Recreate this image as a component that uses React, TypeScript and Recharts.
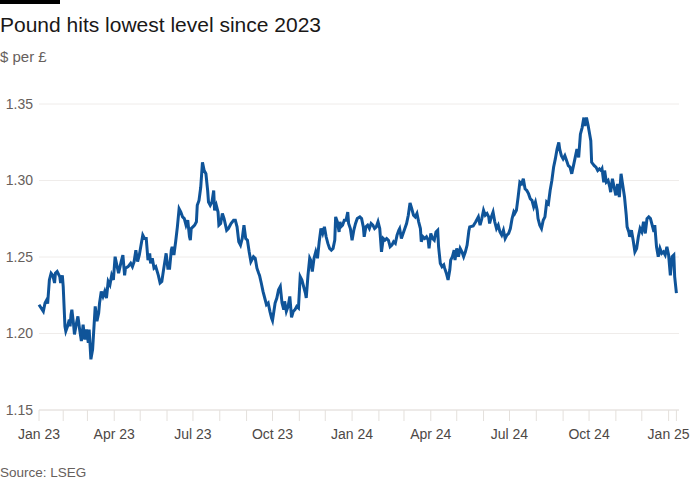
/**
 * Pound vs dollar
 * Line chart of GBP/USD from Jan 2023 to Jan 2025 (FT style)
 */

import React from 'react';
import { LineChart, Line, XAxis, YAxis, CartesianGrid } from 'recharts';

const dates = [
  '2023-01-04', '2023-01-09', '2023-01-11', '2023-01-13', '2023-01-14', '2023-01-16', '2023-01-18', '2023-01-20',
  '2023-01-22', '2023-01-23', '2023-01-25', '2023-01-28', '2023-01-29', '2023-01-31', '2023-02-01', '2023-02-03',
  '2023-02-04', '2023-02-06', '2023-02-08', '2023-02-09', '2023-02-10', '2023-02-11', '2023-02-13', '2023-02-14',
  '2023-02-16', '2023-02-18', '2023-02-20', '2023-02-22', '2023-02-24', '2023-02-26', '2023-02-28', '2023-03-02',
  '2023-03-03', '2023-03-05', '2023-03-07', '2023-03-10', '2023-03-12', '2023-03-14', '2023-03-15', '2023-03-17',
  '2023-03-19', '2023-03-21', '2023-03-23', '2023-03-25', '2023-03-27', '2023-03-29', '2023-03-31', '2023-04-02',
  '2023-04-04', '2023-04-06', '2023-04-09', '2023-04-11', '2023-04-13', '2023-04-14', '2023-04-17', '2023-04-20',
  '2023-04-22', '2023-04-24', '2023-04-26', '2023-04-28', '2023-04-30', '2023-05-02', '2023-05-04', '2023-05-06',
  '2023-05-08', '2023-05-10', '2023-05-12', '2023-05-13', '2023-05-15', '2023-05-17', '2023-05-19', '2023-05-22',
  '2023-05-24', '2023-05-26', '2023-05-28', '2023-05-31', '2023-06-02', '2023-06-04', '2023-06-06', '2023-06-07',
  '2023-06-09', '2023-06-11', '2023-06-13', '2023-06-15', '2023-06-17', '2023-06-19', '2023-06-21', '2023-06-23',
  '2023-06-25', '2023-06-27', '2023-06-28', '2023-06-29', '2023-07-01', '2023-07-03', '2023-07-05', '2023-07-06',
  '2023-07-08', '2023-07-10', '2023-07-12', '2023-07-14', '2023-07-16', '2023-07-18', '2023-07-19', '2023-07-21',
  '2023-07-23', '2023-07-25', '2023-07-26', '2023-07-28', '2023-07-30', '2023-07-31', '2023-08-02', '2023-08-04',
  '2023-08-06', '2023-08-09', '2023-08-11', '2023-08-14', '2023-08-17', '2023-08-19', '2023-08-21', '2023-08-23',
  '2023-08-25', '2023-08-27', '2023-08-29', '2023-08-31', '2023-09-02', '2023-09-04', '2023-09-06', '2023-09-09',
  '2023-09-11', '2023-09-13', '2023-09-15', '2023-09-16', '2023-09-18', '2023-09-20', '2023-09-22', '2023-09-24',
  '2023-09-26', '2023-09-28', '2023-09-30', '2023-10-01', '2023-10-04', '2023-10-06', '2023-10-08', '2023-10-10',
  '2023-10-12', '2023-10-14', '2023-10-15', '2023-10-17', '2023-10-19', '2023-10-21', '2023-10-23', '2023-10-25',
  '2023-10-27', '2023-10-29', '2023-10-31', '2023-11-02', '2023-11-04', '2023-11-06', '2023-11-08', '2023-11-09',
  '2023-11-11', '2023-11-13', '2023-11-14', '2023-11-16', '2023-11-18', '2023-11-20', '2023-11-22', '2023-11-24',
  '2023-11-26', '2023-11-28', '2023-11-30', '2023-12-02', '2023-12-04', '2023-12-06', '2023-12-08', '2023-12-10',
  '2023-12-12', '2023-12-13', '2023-12-15', '2023-12-17', '2023-12-18', '2023-12-19', '2023-12-21', '2023-12-23',
  '2023-12-25', '2023-12-27', '2023-12-28', '2023-12-30',
  '2024-01-01', '2024-01-03', '2024-01-05', '2024-01-07', '2024-01-10', '2024-01-12', '2024-01-14', '2024-01-15',
  '2024-01-17', '2024-01-19', '2024-01-21', '2024-01-23', '2024-01-25', '2024-01-27', '2024-01-29', '2024-01-31',
  '2024-02-02', '2024-02-04', '2024-02-06', '2024-02-08', '2024-02-10', '2024-02-12', '2024-02-14', '2024-02-16',
  '2024-02-18', '2024-02-20', '2024-02-22', '2024-02-24', '2024-02-25', '2024-02-27', '2024-02-29', '2024-03-02',
  '2024-03-04', '2024-03-06', '2024-03-08', '2024-03-10', '2024-03-12', '2024-03-14', '2024-03-16', '2024-03-18',
  '2024-03-20', '2024-03-21', '2024-03-23', '2024-03-25', '2024-03-27', '2024-03-29', '2024-03-30', '2024-04-01',
  '2024-04-03', '2024-04-05', '2024-04-07', '2024-04-09', '2024-04-10', '2024-04-12', '2024-04-14', '2024-04-16',
  '2024-04-17', '2024-04-19', '2024-04-21', '2024-04-23', '2024-04-24', '2024-04-26', '2024-04-28', '2024-04-29',
  '2024-05-01', '2024-05-03', '2024-05-05', '2024-05-07', '2024-05-09', '2024-05-11', '2024-05-13', '2024-05-15',
  '2024-05-16', '2024-05-20', '2024-05-23', '2024-05-26', '2024-05-28', '2024-05-30', '2024-06-01', '2024-06-03',
  '2024-06-05', '2024-06-07', '2024-06-08', '2024-06-10', '2024-06-12', '2024-06-14', '2024-06-16', '2024-06-18',
  '2024-06-20', '2024-06-22', '2024-06-24', '2024-06-26', '2024-06-28', '2024-06-30', '2024-07-02', '2024-07-04',
  '2024-07-06', '2024-07-07', '2024-07-09', '2024-07-11', '2024-07-13', '2024-07-15', '2024-07-17', '2024-07-19',
  '2024-07-21', '2024-07-23', '2024-07-25', '2024-07-27', '2024-07-29', '2024-07-31', '2024-08-02', '2024-08-03',
  '2024-08-05', '2024-08-07', '2024-08-09', '2024-08-11', '2024-08-13', '2024-08-15', '2024-08-17', '2024-08-19',
  '2024-08-21', '2024-08-23', '2024-08-25', '2024-08-27', '2024-08-28', '2024-08-30', '2024-09-01', '2024-09-03',
  '2024-09-05', '2024-09-07', '2024-09-09', '2024-09-11', '2024-09-13', '2024-09-15', '2024-09-17', '2024-09-19',
  '2024-09-21', '2024-09-23', '2024-09-25', '2024-09-26', '2024-09-28', '2024-09-30', '2024-10-01', '2024-10-03',
  '2024-10-04', '2024-10-07', '2024-10-09', '2024-10-11', '2024-10-13', '2024-10-15', '2024-10-16', '2024-10-18',
  '2024-10-19', '2024-10-21', '2024-10-23', '2024-10-25', '2024-10-26', '2024-10-28', '2024-10-30', '2024-11-01',
  '2024-11-03', '2024-11-05', '2024-11-07', '2024-11-09', '2024-11-11', '2024-11-13', '2024-11-14', '2024-11-16',
  '2024-11-17', '2024-11-19', '2024-11-21', '2024-11-23', '2024-11-25', '2024-11-27', '2024-11-29', '2024-12-01',
  '2024-12-03', '2024-12-05', '2024-12-07', '2024-12-09', '2024-12-11', '2024-12-13', '2024-12-15', '2024-12-16',
  '2024-12-18', '2024-12-20', '2024-12-22', '2024-12-24', '2024-12-26', '2024-12-28', '2024-12-30',
  '2025-01-01', '2025-01-03', '2025-01-05', '2025-01-07', '2025-01-08', '2025-01-10',
];

// $ per £, same order as dates
const usdPerGbp = [
  1.2188, 1.2145, 1.2199, 1.2220, 1.2195, 1.2350, 1.2394, 1.2380,
  1.2330, 1.2394, 1.2405, 1.2372, 1.2330, 1.2380, 1.2307, 1.2047,
  1.2015, 1.2047, 1.2090, 1.2047, 1.2123, 1.2156, 1.2058, 1.1994,
  1.2058, 1.2112, 1.2026, 1.1950, 1.2058, 1.1960, 1.2026, 1.1940,
  1.2026, 1.1831, 1.1896, 1.2177, 1.2080, 1.2134, 1.2199, 1.2275,
  1.2242, 1.2275, 1.2232, 1.2340, 1.2318, 1.2380, 1.2350, 1.2502,
  1.2448, 1.2394, 1.2470, 1.2513, 1.2380, 1.2427, 1.2437, 1.2459,
  1.2437, 1.2470, 1.2545, 1.2470, 1.2513, 1.2578, 1.2643, 1.2621,
  1.2621, 1.2480, 1.2524, 1.2459, 1.2492, 1.2427, 1.2437, 1.2380,
  1.2330, 1.2340, 1.2416, 1.2524, 1.2427, 1.2427, 1.2545, 1.2567,
  1.2513, 1.2600, 1.2697, 1.2816, 1.2794, 1.2762, 1.2751, 1.2708,
  1.2740, 1.2632, 1.2610, 1.2686, 1.2697, 1.2708, 1.2730, 1.2838,
  1.2870, 1.2956, 1.3119, 1.3065, 1.3044, 1.2935, 1.2859, 1.2838,
  1.2859, 1.2935, 1.2805, 1.2838, 1.2794, 1.2708, 1.2719, 1.2784,
  1.2751, 1.2675, 1.2686, 1.2719, 1.2740, 1.2740, 1.2697, 1.2600,
  1.2578, 1.2621, 1.2708, 1.2621, 1.2610, 1.2534, 1.2470, 1.2502,
  1.2492, 1.2427, 1.2394, 1.2380, 1.2330, 1.2275, 1.2232, 1.2188,
  1.2199, 1.2145, 1.2100, 1.2085, 1.2199, 1.2232, 1.2286, 1.2307,
  1.2199, 1.2156, 1.2210, 1.2145, 1.2177, 1.2242, 1.2105, 1.2145,
  1.2156, 1.2177, 1.2167, 1.2372, 1.2350, 1.2307, 1.2264, 1.2232,
  1.2380, 1.2492, 1.2480, 1.2405, 1.2492, 1.2534, 1.2492, 1.2600,
  1.2686, 1.2654, 1.2697, 1.2632, 1.2589, 1.2556, 1.2545, 1.2556,
  1.2610, 1.2762, 1.2730, 1.2664, 1.2730, 1.2697, 1.2708, 1.2740,
  1.2740, 1.2794, 1.2719, 1.2686,
  1.2610, 1.2675, 1.2719, 1.2751, 1.2762, 1.2751, 1.2697, 1.2632,
  1.2697, 1.2708, 1.2686, 1.2719, 1.2708, 1.2686, 1.2697, 1.2730,
  1.2686, 1.2534, 1.2621, 1.2610, 1.2621, 1.2610, 1.2567, 1.2578,
  1.2600, 1.2589, 1.2643, 1.2675, 1.2686, 1.2621, 1.2654, 1.2686,
  1.2719, 1.2773, 1.2853, 1.2816, 1.2773, 1.2762, 1.2784, 1.2730,
  1.2686, 1.2600, 1.2632, 1.2621, 1.2632, 1.2610, 1.2556, 1.2654,
  1.2621, 1.2610, 1.2664, 1.2675, 1.2567, 1.2459, 1.2437, 1.2448,
  1.2427, 1.2394, 1.2350, 1.2416, 1.2480, 1.2502, 1.2545, 1.2480,
  1.2556, 1.2502, 1.2556, 1.2534, 1.2502, 1.2534, 1.2578, 1.2670,
  1.2697, 1.2703, 1.2730, 1.2762, 1.2708, 1.2751, 1.2805, 1.2773,
  1.2784, 1.2762, 1.2719, 1.2762, 1.2794, 1.2730, 1.2686, 1.2708,
  1.2664, 1.2643, 1.2675, 1.2621, 1.2643, 1.2654, 1.2686, 1.2751,
  1.2794, 1.2784, 1.2805, 1.2892, 1.2989, 1.2978, 1.3011, 1.2946,
  1.2935, 1.2914, 1.2881, 1.2870, 1.2827, 1.2859, 1.2805, 1.2751,
  1.2708, 1.2686, 1.2740, 1.2762, 1.2859, 1.2848, 1.2935, 1.3000,
  1.3087, 1.3141, 1.3206, 1.3249, 1.3206, 1.3162, 1.3141, 1.3162,
  1.3130, 1.3097, 1.3087, 1.3044, 1.3097, 1.3151, 1.3206, 1.3151,
  1.3303, 1.3346, 1.3411, 1.3357, 1.3411, 1.3357, 1.3325, 1.3260,
  1.3119, 1.3097, 1.3087, 1.3065, 1.3076, 1.3065, 1.3076, 1.2989,
  1.3065, 1.2989, 1.3000, 1.2956, 1.2924, 1.3011, 1.2956, 1.2903,
  1.2978, 1.2892, 1.3044, 1.2968, 1.2892, 1.2773, 1.2697, 1.2664,
  1.2632, 1.2675, 1.2610, 1.2534, 1.2556, 1.2632, 1.2686, 1.2664,
  1.2730, 1.2654, 1.2751, 1.2762, 1.2751, 1.2708, 1.2664, 1.2708,
  1.2567, 1.2502, 1.2556, 1.2524, 1.2534, 1.2513, 1.2567,
  1.2513, 1.2380, 1.2502, 1.2513, 1.2372, 1.2264,
];

// x axis: month ticks, labelled every quarter
const tickDates = [
  '2023-01-04', '2023-02-01', '2023-03-01', '2023-04-01', '2023-05-01', '2023-06-01', '2023-07-01',
  '2023-08-01', '2023-09-01', '2023-10-01', '2023-11-01', '2023-12-01', '2024-01-01', '2024-02-01',
  '2024-03-01', '2024-04-01', '2024-05-01', '2024-06-01', '2024-07-01', '2024-08-01', '2024-09-01',
  '2024-10-01', '2024-11-01', '2024-12-01', '2025-01-01', '2025-01-10',
];
const tickLabels = [
  'Jan 23', '', '', 'Apr 23', '', '', 'Jul 23',
  '', '', 'Oct 23', '', '', 'Jan 24', '',
  '', 'Apr 24', '', '', 'Jul 24', '', '',
  'Oct 24', '', '', 'Jan 25', '',
];
const xDomain = ['2023-01-04', '2025-01-13'];

// y axis
const yTicks = [1.15, 1.2, 1.25, 1.3, 1.35];

const FONT = '"Liberation Sans", Arial, sans-serif';

export default function App() {
  const data = dates.map((d, i) => ({ t: Date.parse(d), value: usdPerGbp[i] }));
  const xTicks = tickDates.map((d) => Date.parse(d));

  return (
    <div
      style={{
        position: 'absolute',
        left: 0,
        top: 0,
        width: 700,
        height: 500,
        background: '#ffffff',
        fontFamily: FONT,
      }}
    >
      {/* FT style top bar */}
      <div style={{ position: 'absolute', left: 0, top: 0, width: 60, height: 4, background: '#000' }} />

      <div
        style={{
          position: 'absolute',
          left: 0,
          top: 14,
          fontSize: 21,
          lineHeight: '21px',
          color: '#1a1817',
          whiteSpace: 'nowrap',
        }}
      >
        Pound hits lowest level since 2023
      </div>
      <div
        style={{
          position: 'absolute',
          left: 0,
          top: 49,
          fontSize: 15,
          lineHeight: '15px',
          color: '#66605c',
        }}
      >
        $ per £
      </div>

      <div style={{ position: 'absolute', left: 0, top: 0 }}>
        <LineChart
          width={700}
          height={500}
          data={data}
          margin={{ top: 104, right: 21, bottom: 0, left: 0 }}
        >
          <CartesianGrid vertical={false} stroke="#efecea" strokeWidth={1} />
          <XAxis
            dataKey="t"
            type="number"
            domain={xDomain.map((d) => Date.parse(d))}
            ticks={xTicks}
            interval={0}
            tickFormatter={(_v, i) => tickLabels[i]}
            height={90}
            tickSize={11}
            tickMargin={8}
            axisLine={{ stroke: '#e4e0dc' }}
            tickLine={{ stroke: '#e4e0dc' }}
            tick={{ fill: '#4d4845', fontSize: 14, fontFamily: FONT }}
          />
          <YAxis
            type="number"
            domain={[1.15, 1.35]}
            ticks={yTicks}
            width={39}
            axisLine={false}
            tickLine={false}
            tickSize={0}
            tickMargin={6}
            tickFormatter={(v) => v.toFixed(2)}
            tick={{ fill: '#66605c', fontSize: 14, fontFamily: FONT }}
          />
          <Line
            type="linear"
            dataKey="value"
            stroke="#0f5499"
            strokeWidth={3}
            dot={false}
            isAnimationActive={false}
          />
        </LineChart>
      </div>

      <div
        style={{
          position: 'absolute',
          left: 0,
          top: 466,
          fontSize: 13.5,
          lineHeight: '13.5px',
          color: '#66605c',
        }}
      >
        Source: LSEG
      </div>
    </div>
  );
}
